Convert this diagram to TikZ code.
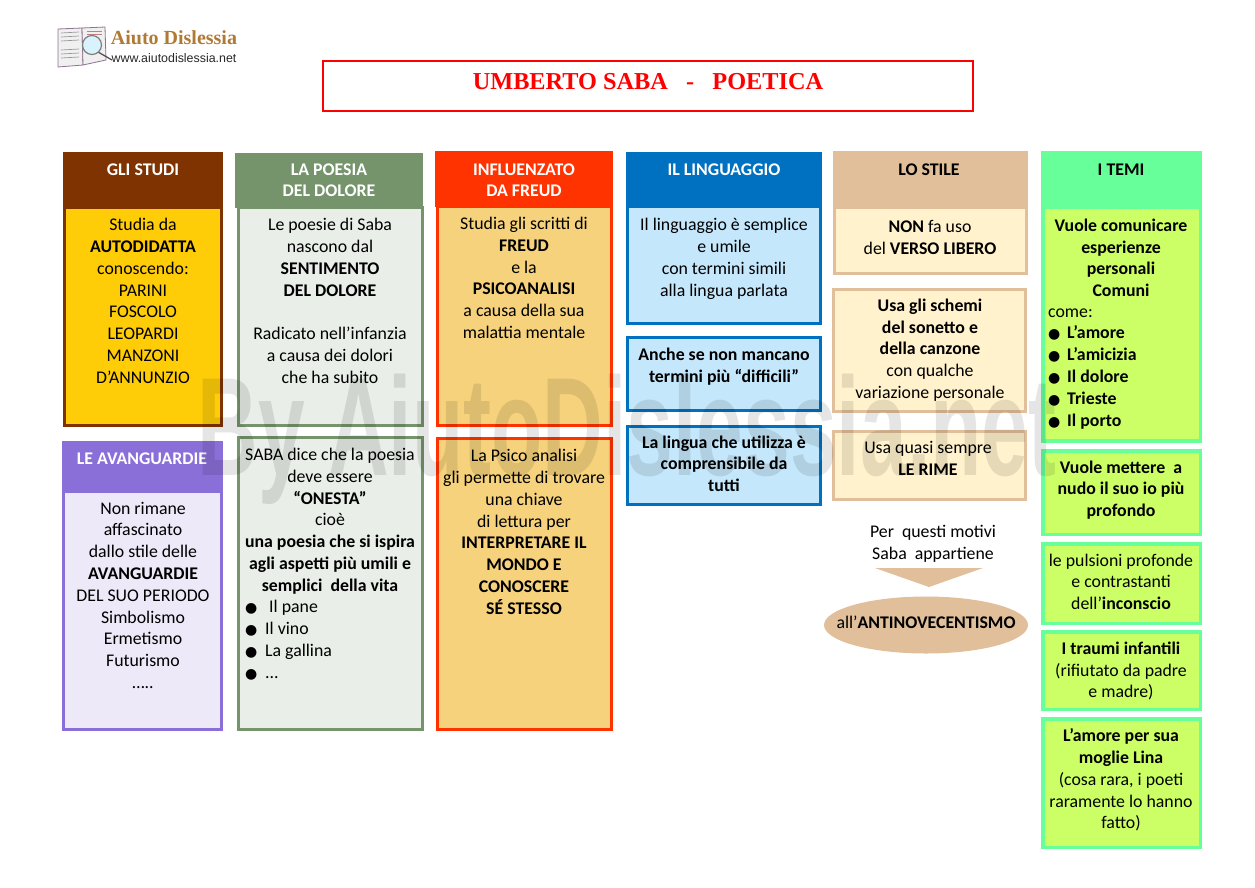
\documentclass[tikz,border=0pt]{standalone}
\usepackage{fontspec}
\setmainfont{Carlito}
\newfontfamily\titlefont{Liberation Serif}
\newfontfamily\logofont{Liberation Serif}
\newfontfamily\webfont{Liberation Sans}
\newfontfamily\symbfont{DejaVu Sans}
\usetikzlibrary{shapes.geometric}
\newcommand{\pallino}[1]{\makebox[#1pt][l]{\symbfont\fontsize{14}{14}\selectfont ●}}
\definecolor{studiC}{HTML}{7F3300}
\definecolor{studiF}{HTML}{FFCC08}
\definecolor{avanC}{HTML}{8B6FD8}
\definecolor{avanF}{HTML}{EDE9F8}
\definecolor{poesiaC}{HTML}{76946B}
\definecolor{poesiaF}{HTML}{E9EEE8}
\definecolor{freudC}{HTML}{FF3300}
\definecolor{freudF}{HTML}{F6D27C}
\definecolor{lingC}{HTML}{0070C0}
\definecolor{lingF}{HTML}{C5E7FB}
\definecolor{stileC}{HTML}{E0BF9A}
\definecolor{stileF}{HTML}{FFF2CC}
\definecolor{temiC}{HTML}{66FF99}
\definecolor{temiF}{HTML}{CCFF66}
\definecolor{logoC}{HTML}{B07A35}
\tikzset{
    wh/.style n args={2}{minimum width=#1pt,minimum height=#2pt},
    panel/.style n args={2}{draw=#1,fill=#2,line width=3pt,inner sep=0pt,outer sep=0pt},
    head/.style={fill=#1,inner sep=0pt,outer sep=0pt},
    testo/.style={align=center,inner sep=0pt,yshift=-3.5pt,font=\fontsize{17.8}{21.8}\selectfont,
        execute at begin node=\strut,execute at end node=\strut},
    lista/.style={testo,align=left},
    grassetto/.style={testo,font=\fontsize{17.8}{21.8}\selectfont\bfseries},
    titolo/.style={grassetto,text=white},
    pagina/.style={fill=black!6,draw=violet!40!black!55,line width=.8pt}
}
\begin{document}
\begin{tikzpicture}[x=1pt,y=-1pt]
    \useasboundingbox (0,0) rectangle (1255,887);

    \filldraw[pagina] (58,29) -- (82,28) -- (83,65) -- (58,67) -- cycle;
    \filldraw[pagina] (83,65) -- (82,28) -- (105,27) -- (106,60) -- cycle;
    \foreach \y in {33,37,41,50,54,58}
        \draw[black!40,line width=.7pt] (61,\y) -- (79,\y-1);
    \foreach \y in {31,34}
        \draw[red!50!black!50,line width=.7pt] (87,\y) -- (102,\y);
    \draw[black!70,line width=1.2pt] (98,52) -- (112,60);
    \filldraw[fill=cyan!15,draw=black!50,line width=1.2pt] (92,45) circle (9.5);
    \node[inner sep=0pt,font=\logofont\fontsize{20}{20}\selectfont\bfseries,text=logoC] (logoName) at (174,38) {Aiuto Dislessia};
    \node[inner sep=0pt,font=\webfont\fontsize{12.4}{12.4}\selectfont,text=black!85] (logoWeb) at (174,58) {www.aiutodislessia.net};

    \node[draw=red,line width=2pt,wh={650}{50},inner sep=0pt] (titoloBox) at (647.5,85.5) {};
    \node[inner sep=0pt,text=red,font=\titlefont\fontsize{24.3}{24.3}\selectfont\bfseries] (titoloTxt) at (648,82) {UMBERTO SABA\ \ \ -\ \ \ POETICA};

    \node[panel={studiC}{studiF},wh={157}{218}] (studiBody) at (143,316.5) {};
    \node[head=studiC,wh={160}{56}] (studiHead) at (143,180) {};
    \node[titolo] (studiTit) at (143,168) {GLI STUDI};
    \node[testo] (studiTxt) at (143,300.5) {Studia da\\\textbf{AUTODIDATTA}\\conoscendo:\\PARINI\\FOSCOLO\\LEOPARDI\\MANZONI\\D’ANNUNZIO};

    \node[panel={avanC}{avanF},wh={158}{238}] (avanBody) at (142.5,610.5) {};
    \node[head=avanC,wh={161}{52}] (avanHead) at (142.5,467) {};
    \node[titolo] (avanTit) at (142,457) {LE AVANGUARDIE};
    \node[testo] (avanTxt) at (143,595) {Non rimane\\affascinato\\dallo stile delle\\\textbf{AVANGUARDIE}\\DEL SUO PERIODO\\Simbolismo\\Ermetismo\\Futurismo\\…..};

    \node[panel={poesiaC}{poesiaF},wh={184}{218}] (poesiaBody) at (330.5,316.5) {};
    \node[head=poesiaC,wh={188}{55}] (poesiaHead) at (329,180.5) {};
    \node[titolo] (poesiaTit) at (329,180) {LA POESIA\\DEL DOLORE};
    \node[testo] (poesiaTxt) at (330,300.5) {Le poesie di Saba\\nascono dal\\\textbf{SENTIMENTO}\\\textbf{DEL DOLORE}\\[21.8pt]Radicato nell’infanzia\\a causa dei dolori\\che ha subito};

    \node[panel={poesiaC}{poesiaF},wh={184}{292}] (onestaBody) at (330.5,583.5) {};
    \node[testo] (onestaTxt) at (330,519.5) {SABA dice che la poesia\\deve essere\\\textbf{“ONESTA”}\\cioè\\\textbf{una poesia che si ispira}\\\textbf{agli aspetti più umili e}\\\textbf{semplici\ \ della vita}};
    \node[lista,anchor=west] (onestaList) at (245,639) {\pallino{20}\ Il pane\\\pallino{20}Il vino\\\pallino{20}La gallina\\\pallino{20}...};

    \node[panel={freudC}{freudF},wh={174}{219}] (freudBody) at (524.5,316) {};
    \node[head=freudC,wh={178}{56}] (freudHead) at (524,179) {};
    \node[titolo] (freudTit) at (524,180) {INFLUENZATO\\DA FREUD};
    \node[testo] (freudTxt) at (524,277.5) {Studia gli scritti di\\\textbf{FREUD}\\e la\\\textbf{PSICOANALISI}\\a causa della sua\\malattia mentale};

    \node[panel={freudC}{freudF},wh={174}{291}] (psicoBody) at (524.5,584) {};
    \node[testo] (psicoTxt) at (524,531.5) {La Psico analisi\\gli permette di trovare\\una chiave\\di lettura per\\\textbf{INTERPRETARE IL}\\\textbf{MONDO E}\\\textbf{CONOSCERE}\\\textbf{SÉ STESSO}};

    \node[panel={lingC}{lingF},wh={193}{117}] (lingBody) at (724,265) {};
    \node[head=lingC,wh={196}{55}] (lingHead) at (724,179.5) {};
    \node[titolo] (lingTit) at (724,168) {IL LINGUAGGIO};
    \node[testo] (lingTxt) at (724,257) {Il linguaggio è semplice\\e umile\\con termini simili\\alla lingua parlata};

    \node[panel={lingC}{lingF},wh={193}{73}] (difficiliBody) at (724,374) {};
    \node[grassetto] (difficiliTxt) at (724,365) {Anche se non mancano\\termini più “difficili”};

    \node[panel={lingC}{lingF},wh={193}{78}] (tuttiBody) at (724,465.5) {};
    \node[grassetto] (tuttiTxt) at (724,463.5) {La lingua che utilizza è\\comprensibile da\\tutti};

    \node[panel={stileC}{stileF},wh={192}{66}] (versoBody) at (930.5,240.5) {};
    \node[head=stileC,wh={195}{58}] (stileHead) at (930.5,180) {};
    \node[grassetto] (stileTit) at (929,168) {LO STILE};
    \node[testo] (versoTxt) at (930,237) {\textbf{NON} fa uso\\del \textbf{VERSO LIBERO}};

    \node[panel={stileC}{stileF},wh={192}{122}] (schemiBody) at (929.5,350.5) {};
    \node[testo] (schemiTxt) at (930,348.5) {\textbf{Usa gli schemi}\\\textbf{del sonetto e}\\\textbf{della canzone}\\con qualche\\variazione personale};

    \node[panel={stileC}{stileF},wh={192}{68}] (rimeBody) at (929.5,465.5) {};
    \node[testo] (rimeTxt) at (928,458) {Usa quasi sempre\\\textbf{LE RIME}};

    \node[testo] (motiviTxt) at (933,542) {Per\ \ questi motivi\\Saba\ \ appartiene};
    \fill[stileC] (875,568) -- (983,568) -- (929,587) -- cycle;
    \node[ellipse,fill=stileC,wh={204}{57},inner sep=0pt] (antiBox) at (926,625) {};
    \node[testo] (antiTxt) at (926,621) {all’\textbf{ANTINOVECENTISMO}};

    \node[panel={temiC}{temiF},line width=3.5pt,wh={157.5}{234}] (temiBody) at (1121.5,324) {};
    \node[head=temiC,wh={161}{57}] (temiHead) at (1121.5,179.5) {};
    \node[grassetto] (temiTit) at (1121,168) {I TEMI};
    \node[grassetto] (temiTxt) at (1121,257.5) {Vuole comunicare\\esperienze\\personali\\Comuni};
    \node[lista,anchor=west] (temiList) at (1048,367) {come:\\\pallino{19}\textbf{L’amore}\\\pallino{19}\textbf{L’amicizia}\\\pallino{19}\textbf{Il dolore}\\\pallino{19}\textbf{Trieste}\\\pallino{19}\textbf{Il porto}};

    \node[panel={temiC}{temiF},line width=3.5pt,wh={157.5}{83.5}] (nudoBody) at (1121.5,492.5) {};
    \node[grassetto] (nudoTxt) at (1121,488.5) {Vuole mettere\ \ a\\nudo il suo io più\\profondo};

    \node[panel={temiC}{temiF},line width=3.5pt,wh={157.5}{79.5}] (pulsioniBody) at (1121.5,583.5) {};
    \node[testo] (pulsioniTxt) at (1121,581.5) {le pulsioni profonde\\e contrastanti\\dell’\textbf{inconscio}};

    \node[panel={temiC}{temiF},line width=3.5pt,wh={157.5}{77.5}] (traumiBody) at (1121.5,670.5) {};
    \node[testo] (traumiTxt) at (1121,669.5) {\textbf{I traumi infantili}\\(rifiutato da padre\\e madre)};

    \node[panel={temiC}{temiF},line width=3.5pt,wh={157.5}{128.5}] (linaBody) at (1121.5,783) {};
    \node[testo] (linaTxt) at (1121,778.5) {\textbf{L’amore per sua}\\\textbf{moglie Lina}\\(cosa rara, i poeti\\raramente lo hanno\\fatto)};

    \node[inner sep=0pt,xscale=.6,anchor=base,text=black,text opacity=.1,font=\webfont\fontsize{140}{140}\selectfont\bfseries] (filigrana) at (627,475) {By AiutoDislessia.net};
\end{tikzpicture}
\end{document}
